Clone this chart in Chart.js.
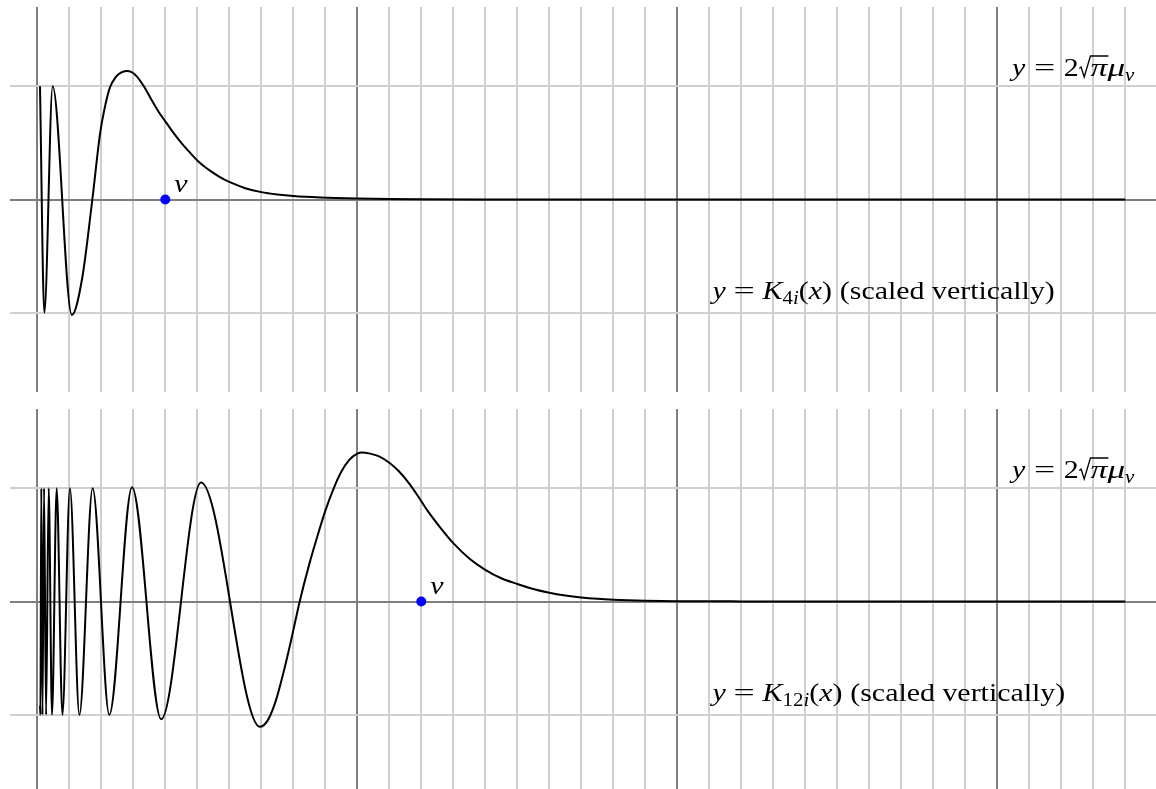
<!DOCTYPE html>
<html>
<head>
<meta charset="utf-8">
<script src="https://cdn.jsdelivr.net/npm/chart.js@4.4.1/dist/chart.umd.min.js"></script>
<style>
  html, body { margin: 0; padding: 0; background: #fff; width: 1156px; height: 789px; overflow: hidden; }
  canvas { position: absolute; left: 10px; }
  #top-chart { top: 7px; }
  #bottom-chart { top: 409px; }
</style>
</head>
<body>
<canvas id="top-chart" width="1146" height="385"></canvas>
<canvas id="bottom-chart" width="1146" height="385"></canvas>
<script>
// ─── Data ────────────────────────────────────────────────────────────────────

const xTicks = [0, 1, 2, 3, 4, 5, 6, 7, 8, 9, 10, 11, 12, 13, 14, 15, 16, 17,
  18, 19, 20, 21, 22, 23, 24, 25, 26, 27, 28, 29, 30, 31, 32, 33, 34];
const yTicks = [-1, 0, 1];

// K_{4i}(x), scaled
const k4X = [0.084, 0.22, 0.48, 1.08, 1.4, 1.72, 1.96, 2.1, 2.27, 2.45, 2.6, 2.79,
  2.95, 3.1, 3.33, 3.55, 3.8, 4.0, 4.25, 4.5, 4.75, 5.0, 5.25, 5.5, 5.75, 6.0, 6.5,
  7.0, 7.5, 8.0, 8.85, 10, 11, 12, 14, 17, 22, 34];
const k4Y = [1.0, -1.0, 1.0, -1.02, -0.70, 0, 0.58, 0.80, 0.99, 1.08, 1.118, 1.135,
  1.125, 1.09, 1.0, 0.89, 0.77, 0.69, 0.59, 0.50, 0.42, 0.345, 0.285, 0.235, 0.19,
  0.155, 0.10, 0.065, 0.044, 0.03, 0.017, 0.008, 0.004, 0.002, 0.0005, 0, 0, 0];

// K_{12i}(x), scaled
const k12X = [0.085, 0.097, 0.125, 0.162, 0.211, 0.274, 0.356, 0.46, 0.606, 0.785,
  1.02, 1.315, 1.73, 2.25, 2.96, 3.87, 5.117, 6.96, 7.2, 7.45, 7.7, 7.95, 8.2, 8.5,
  8.8, 9.0, 9.25, 9.5, 9.75, 10.0, 10.14, 10.4, 10.7, 11.0, 11.3, 11.6, 11.9, 12.2,
  12.6, 13.0, 13.5, 14.0, 14.5, 15.0, 15.5, 16.0, 16.5, 17.0, 17.5, 18.0, 19.0, 20.0,
  22, 25, 34];
const k12Y = [-0.92, -1, 1, -1, 1, -1, 1, -1, 1, -1,
  1, -1, 1.0, -1.0, 1.01, -1.04, 1.05, -1.107, -1.05, -0.88, -0.62, -0.32, 0, 0.33,
  0.62, 0.80, 0.99, 1.145, 1.25, 1.305, 1.316, 1.306, 1.28, 1.225, 1.15, 1.05, 0.93, 0.80,
  0.65, 0.515, 0.38, 0.28, 0.205, 0.155, 0.11, 0.077, 0.053, 0.036, 0.024, 0.016, 0.007, 0.003,
  0.001, 0, 0];

const nuValues = [4, 12];

// ─── Style ───────────────────────────────────────────────────────────────────

const X_MIN = -0.853, X_MAX = 34.96;
const Y_MIN = -1.7, Y_MAX = 1.7;
const LIGHT = "#cfcfcf";
const DARK = "#7f7f7f";
const FONT = '"Liberation Serif", "Times New Roman", serif';
const SIZE = 26;
const SX = 1.15;   // widen Times glyphs towards Computer Modern proportions

// ─── Math text ───────────────────────────────────────────────────────────────

function runFont(r) {
  return (r.i ? "italic " : "") + (r.sub ? SIZE * 0.7 : SIZE) + "px " + FONT;
}

function mathWidth(ctx, runs) {
  let w = 0;
  for (const r of runs) {
    ctx.font = runFont(r);
    r._w = ctx.measureText(r.t).width * (r.sx || SX);
    w += (r.sp || 0) * SIZE + (r.rad ? 0.45 * SIZE : 0) + r._w;
  }
  return w;
}

function drawMath(ctx, runs, x, y, align) {
  const total = mathWidth(ctx, runs);
  let cx = align === "right" ? x - total : x;
  ctx.fillStyle = "#000";
  ctx.strokeStyle = "#000";
  ctx.textBaseline = "alphabetic";
  ctx.textAlign = "left";
  for (const r of runs) {
    cx += (r.sp || 0) * SIZE;
    if (r.rad) {
      const s = SIZE, top = y - 0.78 * s;
      ctx.lineWidth = 1.3;
      ctx.beginPath();
      ctx.moveTo(cx + 0.02 * s, y - 0.30 * s);
      ctx.lineTo(cx + 0.09 * s, y - 0.35 * s);
      ctx.lineTo(cx + 0.21 * s, y + 0.03 * s);
      ctx.lineTo(cx + 0.45 * s, top);
      ctx.lineTo(cx + 0.45 * s + r._w + 1, top);
      ctx.stroke();
      cx += 0.45 * s;
    }
    ctx.font = runFont(r);
    ctx.save();
    ctx.translate(cx, r.sub ? y + 0.2 * SIZE : y);
    ctx.scale(r.sx || SX, 1);
    ctx.fillText(r.t, 0, 0);
    ctx.restore();
    cx += r._w;
  }
}

const muRuns = () => [
  { t: "y", i: true }, { t: "=", sp: 0.33, sx: 1.45 }, { t: "2", sp: 0.33 },
  { t: "π", i: true, rad: true, sx: 1.3 }, { t: "μ", i: true, sx: 1.35 },
  { t: "ν", i: true, sub: true },
];

const kRuns = idx => [
  { t: "y", i: true }, { t: "=", sp: 0.3, sx: 1.45 }, { t: "K", i: true, sp: 0.3 },
  { t: idx, sub: true }, { t: "i", i: true, sub: true },
  { t: "(" }, { t: "x", i: true }, { t: ")" }, { t: "(scaled vertically)", sp: 0.3 },
];

// ─── Charts ──────────────────────────────────────────────────────────────────

function labelPlugin(idx, nu) {
  return {
    id: "labels",
    afterDraw(chart) {
      const { ctx, scales: { x, y } } = chart;
      ctx.save();
      drawMath(ctx, muRuns(), x.getPixelForValue(34) + 9, y.getPixelForValue(1) - 10, "right");
      drawMath(ctx, kRuns(idx), x.getPixelForValue(21.1), y.getPixelForValue(-1) - 14, "left");
      drawMath(ctx, [{ t: "ν", i: true }], x.getPixelForValue(nu) + 9, y.getPixelForValue(0) - 8, "left");
      ctx.restore();
    },
  };
}

function makeChart(id, xs, ys, nu, idx) {
  const ctx = document.getElementById(id).getContext("2d");
  return new Chart(ctx, {
    type: "line",
    data: {
      datasets: [
        {
          data: xs.map((v, i) => ({ x: v, y: ys[i] })),
          borderColor: "#000",
          borderWidth: 2,
          pointRadius: 0,
          fill: false,
          cubicInterpolationMode: "monotone",
        },
        {
          data: [{ x: nu, y: 0 }],
          showLine: false,
          pointRadius: 5,
          pointBackgroundColor: "#0000ff",
          pointBorderWidth: 0,
        },
      ],
    },
    options: {
      responsive: false,
      animation: false,
      events: [],
      layout: { padding: 0, autoPadding: false },
      plugins: { legend: { display: false }, tooltip: { enabled: false } },
      scales: {
        x: {
          type: "linear",
          min: X_MIN,
          max: X_MAX,
          afterBuildTicks: s => { s.ticks = xTicks.map(v => ({ value: v })); },
          ticks: { display: false },
          grid: { color: c => (c.tick.value % 10 === 0 ? DARK : LIGHT), lineWidth: 2, drawTicks: false },
          border: { display: false },
        },
        y: {
          type: "linear",
          min: Y_MIN,
          max: Y_MAX,
          afterBuildTicks: s => { s.ticks = yTicks.map(v => ({ value: v })); },
          ticks: { display: false },
          grid: { color: c => (c.tick.value === 0 ? DARK : LIGHT), lineWidth: 2, drawTicks: false },
          border: { display: false },
        },
      },
    },
    plugins: [labelPlugin(idx, nu)],
  });
}

makeChart("top-chart", k4X, k4Y, nuValues[0], "4");
makeChart("bottom-chart", k12X, k12Y, nuValues[1], "12");
</script>
</body>
</html>
